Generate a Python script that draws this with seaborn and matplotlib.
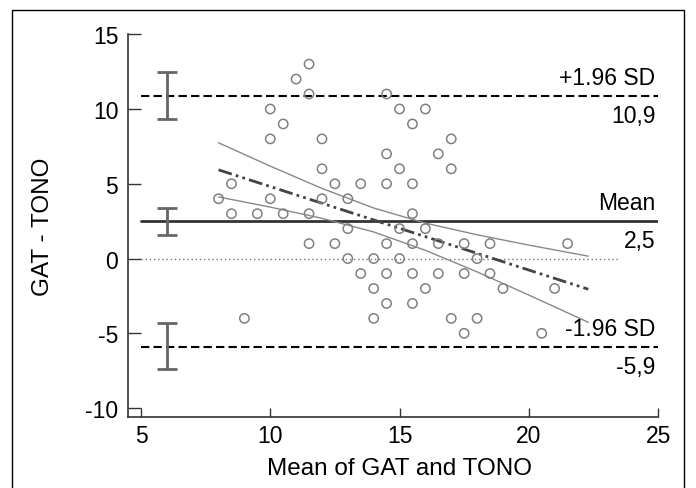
import pandas as pd
import matplotlib
matplotlib.use("Agg")
import matplotlib.pyplot as plt
import seaborn as sns
from matplotlib.patches import Rectangle

# valores (media de GAT y TONO, diferencia GAT - TONO)
media = [8, 8.5, 8.5, 9, 9.5, 10, 10, 10, 10.5, 10.5, 11, 11.5, 11.5, 11.5, 11.5,
         12, 12, 12, 12.5, 12.5, 13, 13, 13, 13.5, 13.5, 14, 14, 14,
         14.5, 14.5, 14.5, 14.5, 14.5, 14.5, 15, 15, 15, 15,
         15.5, 15.5, 15.5, 15.5, 15.5, 15.5, 16, 16, 16, 16.5, 16.5, 16.5,
         17, 17, 17, 17.5, 17.5, 17.5, 18, 18, 18.5, 18.5, 19, 20.5, 21, 21.5]
diferencia = [4, 5, 3, -4, 3, 10, 8, 4, 9, 3, 12, 13, 11, 3, 1,
              8, 6, 4, 5, 1, 4, 2, 0, 5, -1, 0, -2, -4,
              11, 7, 5, 1, -1, -3, 10, 6, 2, 0,
              9, 5, 3, 1, -1, -3, 10, 2, -2, 7, 1, -1,
              8, 6, -4, 1, -1, -5, 0, -4, 1, -1, -2, -5, -2, 1]

# limites de acuerdo (del grafico)
lineas = ['+1.96 SD', 'Mean', '-1.96 SD']
valores = [10.9, 2.5, -5.9]
textos = ['10,9', '2,5', '-5,9']
ic_bajo = [9.3, 1.6, -7.4]
ic_alto = [12.5, 3.4, -4.3]

# recta de regresion y bandas de confianza
reg_x = [8, 22.3]
reg_y = [5.93, -2.05]
banda_x = [8, 10, 12, 14, 16, 18, 20, 22.3]
banda_sup = [7.74, 6.18, 4.69, 3.38, 2.37, 1.59, 0.90, 0.16]
banda_inf = [4.12, 3.44, 2.69, 1.78, 0.55, -0.89, -2.44, -4.26]

data = pd.DataFrame({'media': media, 'dif': diferencia})

sns.set_style("ticks")
plt.rcParams['font.family'] = ['Liberation Sans', 'DejaVu Sans']
plt.rcParams['axes.unicode_minus'] = False
plt.rcParams['text.color'] = 'black'
plt.rcParams['axes.labelcolor'] = 'black'
plt.rcParams['xtick.labelcolor'] = 'black'
plt.rcParams['ytick.labelcolor'] = 'black'

fig = plt.figure(figsize=(6.96, 4.89), dpi=100)
ax = fig.add_axes([0.184, 0.145, 0.7615, 0.783])

# marco exterior
fig.patches.append(Rectangle((0.017, -0.1), 0.966, 1.078, transform=fig.transFigure,
                             fill=False, edgecolor='black', linewidth=1))

# linea de cero
ax.plot([5, 23.5], [0, 0], color='#777777', linestyle=(0, (1, 2)), linewidth=1)

# media y limites
for nombre, v, t in zip(lineas, valores, textos):
    if nombre == 'Mean':
        ax.plot([5, 25], [v, v], color='#333333', linewidth=2)
    else:
        ax.plot([5, 25], [v, v], color='black', linestyle=(0, (4, 2)), linewidth=1.5)
    ax.text(24.9, v + 0.45, nombre, ha='right', va='bottom', fontsize=16.5)
    ax.text(24.9, v - 0.55, t, ha='right', va='top', fontsize=16.5)

# intervalos de confianza de los limites
centros = [(a + b) / 2 for a, b in zip(ic_bajo, ic_alto)]
errores = [[c - a for c, a in zip(centros, ic_bajo)], [b - c for b, c in zip(ic_alto, centros)]]
ax.errorbar([6, 6, 6], centros, yerr=errores, fmt='none', ecolor='#666666',
            elinewidth=2, capsize=7, capthick=2)

# puntos
sns.scatterplot(data=data, x='media', y='dif', ax=ax, marker='o', s=45,
                facecolor='none', edgecolor='#808080', linewidth=1.1, zorder=3)

# regresion
ax.plot(reg_x, reg_y, color='#444444', linewidth=2, linestyle=(0, (5, 1.5, 1, 1.5, 1, 1.5)))
ax.plot(banda_x, banda_sup, color='#888888', linewidth=1)
ax.plot(banda_x, banda_inf, color='#888888', linewidth=1)

ax.set_xlim(4.5, 25)
ax.set_ylim(-10.6, 15)
ax.set_xticks([5, 10, 15, 20, 25])
ax.set_yticks([-10, -5, 0, 5, 10, 15])
ax.tick_params(axis='y', direction='in', length=9.5, width=1, labelsize=16.5,
               color='#333333', pad=7)
ax.tick_params(axis='x', direction='in', length=6.5, width=1, labelsize=16.5,
               color='#333333', pad=5)
for lado in ['top', 'right']:
    ax.spines[lado].set_visible(False)
for lado in ['left', 'bottom']:
    ax.spines[lado].set_color('#333333')
    ax.spines[lado].set_linewidth(1.2)

ax.set_xlabel('Mean of GAT and TONO', fontsize=17.5)
ax.set_ylabel('GAT - TONO', fontsize=17.5)
ax.xaxis.set_label_coords(0.513, -0.104)
ax.yaxis.set_label_coords(-0.14, 0.5)

fig.savefig('out.png', dpi=100)
